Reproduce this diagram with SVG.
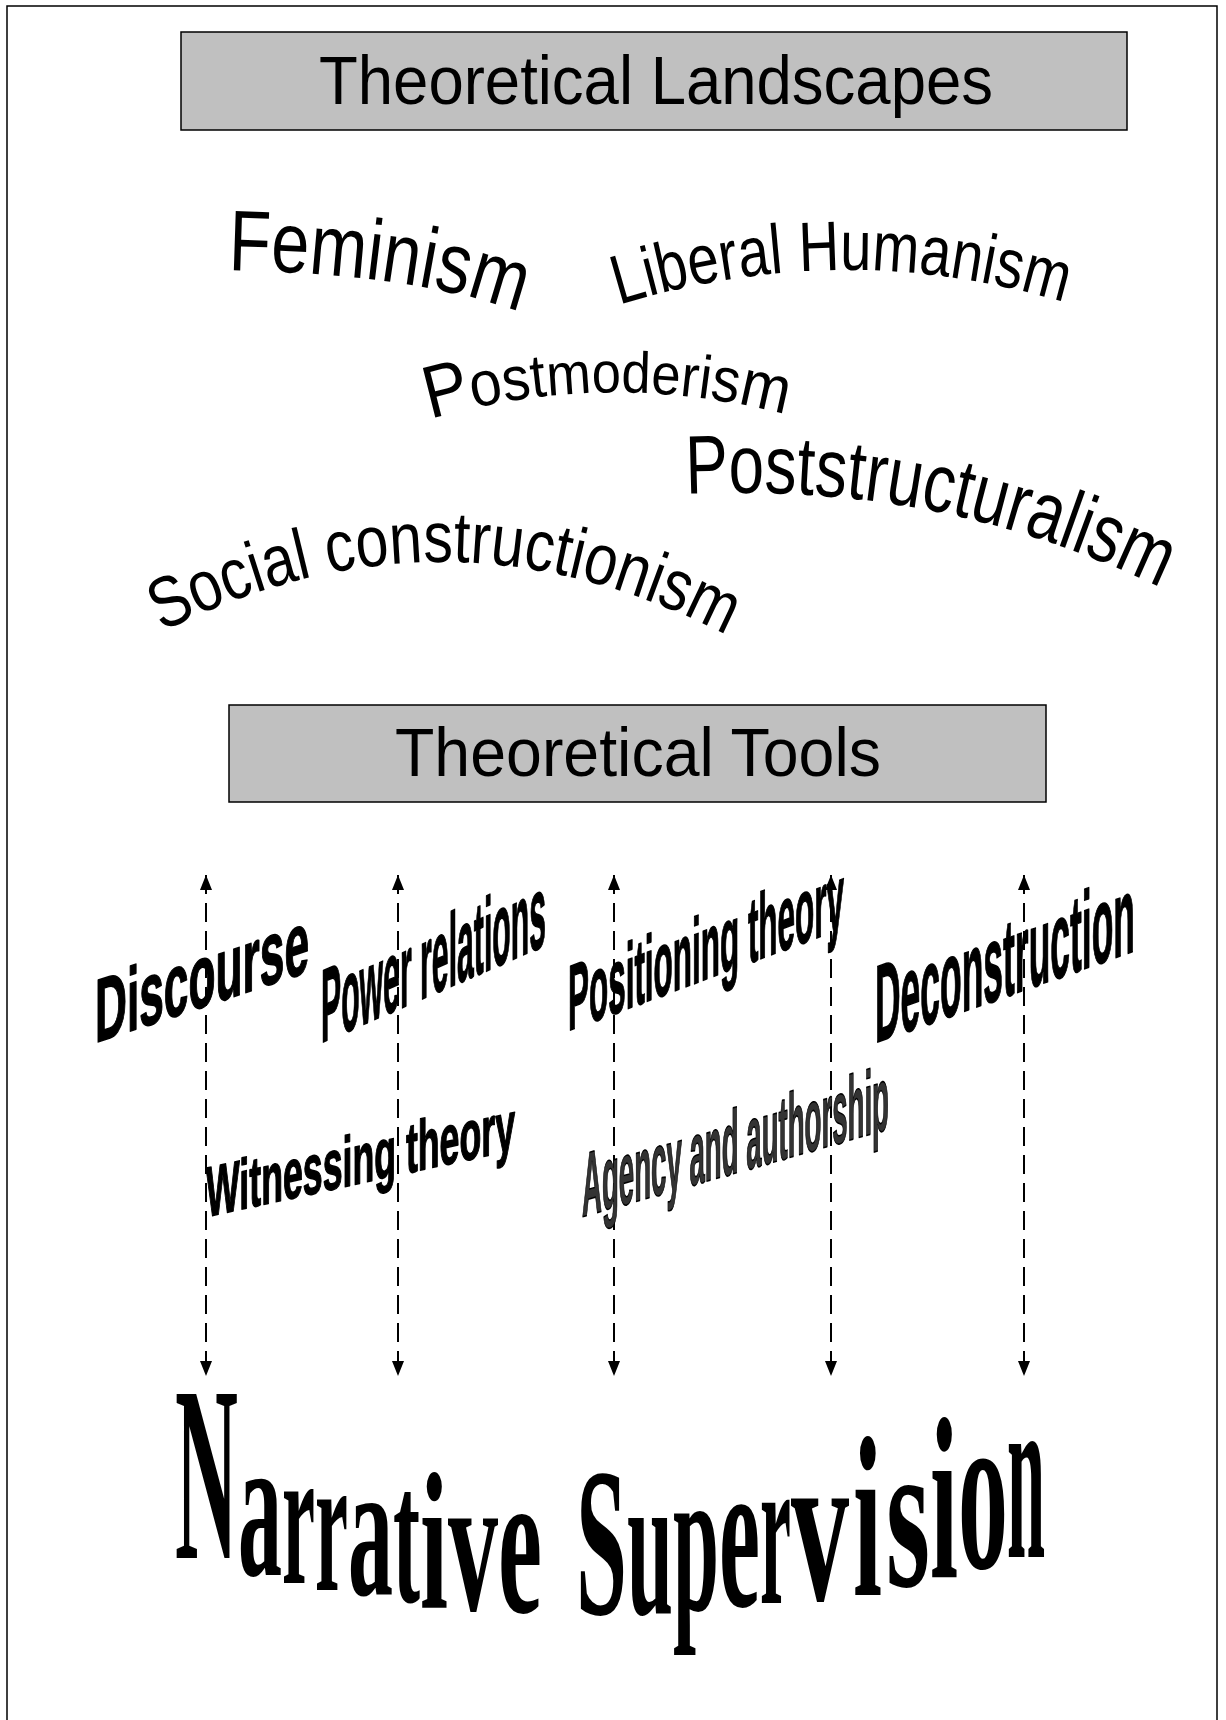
<svg xmlns="http://www.w3.org/2000/svg" width="1226" height="1720" viewBox="0 0 1226 1720">
<style>
.frame{fill:none;stroke:#000;stroke-width:1.5}
.box{fill:#c0c0c0;stroke:#000;stroke-width:1.5}
.ttl{font-family:"Liberation Sans",Arial,sans-serif;font-size:68px;fill:#000;text-anchor:middle}
.arc{font-family:"Liberation Sans",Arial,sans-serif;fill:#000}
.tool{font-family:"Liberation Sans",Arial,sans-serif;font-weight:bold;fill:#000;stroke:#000;stroke-width:1.6;stroke-linejoin:round}
.tool2{font-family:"Liberation Sans",Arial,sans-serif;font-weight:bold;fill:#333;stroke:#000;stroke-width:1.6;stroke-linejoin:round}
.ns{font-family:"Liberation Serif","Times New Roman",serif;font-weight:bold;fill:#000}
.conn{fill:none;stroke:#000;stroke-width:2;stroke-dasharray:19 9;marker-start:url(#ah);marker-end:url(#ah)}
</style>
<defs>
<marker id="ah" markerUnits="userSpaceOnUse" markerWidth="16" markerHeight="13" refX="15" refY="6" orient="auto-start-reverse" viewBox="0 0 16 12">
<path d="M0,0 L15,6 L0,12 Z" fill="#000"/>
</marker>
<path id="pFem" d="M 228 270 Q 420 274 524 314"/>
<path id="pLib" d="M 619 305 Q 843 236 1067 303"/>
<path id="pPom" d="M 430 419 Q 609 368 788 415"/>
<path id="pPst" d="M 686 494 C 840 488 990 505 1170 592"/>
<path id="pSoc" d="M 162 632 Q 445 490 728 636"/>
</defs>
<path class="frame" d="M 7 1720 V 6 H 1217 V 1720"/>

<g id="landscapes">
<rect class="box" x="181" y="32" width="946" height="98"/>
<text class="ttl" x="656" y="104" textLength="674" lengthAdjust="spacingAndGlyphs">Theoretical Landscapes</text>
</g>

<g id="feminism"><text class="arc" font-size="86"><textPath href="#pFem" textLength="296" lengthAdjust="spacingAndGlyphs">Feminism</textPath></text></g>
<g id="liberal-humanism"><text class="arc" font-size="70"><textPath href="#pLib" textLength="452" lengthAdjust="spacingAndGlyphs">Liberal Humanism</textPath></text></g>
<g id="postmoderism"><text class="arc"><textPath href="#pPom" textLength="360" lengthAdjust="spacingAndGlyphs"><tspan font-size="74">P</tspan><tspan font-size="64">o</tspan><tspan font-size="62">s</tspan><tspan font-size="61">t</tspan><tspan font-size="59">m</tspan><tspan font-size="58">o</tspan><tspan font-size="58">d</tspan><tspan font-size="58">e</tspan><tspan font-size="59">r</tspan><tspan font-size="61">i</tspan><tspan font-size="63">s</tspan><tspan font-size="66">m</tspan></textPath></text></g>
<g id="poststructuralism"><text class="arc" font-size="83"><textPath href="#pPst" textLength="489" lengthAdjust="spacingAndGlyphs">Poststructuralism</textPath></text></g>
<g id="social-constructionism"><text class="arc" font-size="72"><textPath href="#pSoc" textLength="588" lengthAdjust="spacingAndGlyphs">Social constructionism</textPath></text></g>

<g id="tools">
<rect class="box" x="229" y="705" width="817" height="97"/>
<text class="ttl" x="638" y="776" textLength="486" lengthAdjust="spacingAndGlyphs">Theoretical Tools</text>
</g>

<g id="connectors">
<line class="conn" x1="206" y1="875" x2="206" y2="1376"/>
<line class="conn" x1="398" y1="875" x2="398" y2="1376"/>
<line class="conn" x1="614" y1="875" x2="614" y2="1376"/>
<line class="conn" x1="831" y1="875" x2="831" y2="1376"/>
<line class="conn" x1="1024" y1="875" x2="1024" y2="1376"/>
</g>

<g id="discourse"><text class="tool" font-size="90" transform="translate(95,1043) skewY(-18.5)" textLength="214" lengthAdjust="spacingAndGlyphs">Discourse</text></g>
<g id="power-relations"><text class="tool" font-size="104" transform="translate(321,1043) skewY(-23.5)" textLength="225" lengthAdjust="spacingAndGlyphs">Power relations</text></g>
<g id="positioning-theory"><text class="tool" font-size="93" transform="translate(568,1031) skewY(-20.5)" textLength="276" lengthAdjust="spacingAndGlyphs">Positioning theory</text></g>
<g id="deconstruction"><text class="tool" font-size="110" transform="translate(875,1043) skewY(-19.5)" textLength="260" lengthAdjust="spacingAndGlyphs">Deconstruction</text></g>
<g id="witnessing-theory"><text class="tool" font-size="71" transform="translate(206,1217) skewY(-12.3)" textLength="309" lengthAdjust="spacingAndGlyphs">Witnessing theory</text></g>
<g id="agency-authorship"><text class="tool2" font-size="91" transform="translate(582,1217) skewY(-16)" textLength="307" lengthAdjust="spacingAndGlyphs">Agency and authorship</text></g>

<g id="narrative-supervision"><text class="ns"><tspan x="175" y="1558" font-size="250" textLength="63" lengthAdjust="spacingAndGlyphs">N</tspan><tspan x="238" y="1575" font-size="205" textLength="44" lengthAdjust="spacingAndGlyphs">a</tspan><tspan x="282" y="1583" font-size="200" textLength="33" lengthAdjust="spacingAndGlyphs">r</tspan><tspan x="315" y="1590" font-size="198" textLength="33" lengthAdjust="spacingAndGlyphs">r</tspan><tspan x="348" y="1595" font-size="195" textLength="45" lengthAdjust="spacingAndGlyphs">a</tspan><tspan x="393" y="1602" font-size="195" textLength="27" lengthAdjust="spacingAndGlyphs">t</tspan><tspan x="420" y="1607" font-size="195" textLength="28" lengthAdjust="spacingAndGlyphs">i</tspan><tspan x="448" y="1610" font-size="200" textLength="50" lengthAdjust="spacingAndGlyphs">v</tspan><tspan x="498" y="1612" font-size="208" textLength="44" lengthAdjust="spacingAndGlyphs">e</tspan> <tspan x="576" y="1614" font-size="212" textLength="51" lengthAdjust="spacingAndGlyphs">S</tspan><tspan x="627" y="1613" font-size="207" textLength="46" lengthAdjust="spacingAndGlyphs">u</tspan><tspan x="673" y="1610" font-size="209" textLength="46" lengthAdjust="spacingAndGlyphs">p</tspan><tspan x="719" y="1606" font-size="216" textLength="41" lengthAdjust="spacingAndGlyphs">e</tspan><tspan x="760" y="1603" font-size="218" textLength="31" lengthAdjust="spacingAndGlyphs">r</tspan><tspan x="791" y="1600" font-size="220" textLength="58" lengthAdjust="spacingAndGlyphs">v</tspan><tspan x="853" y="1595" font-size="228" textLength="29" lengthAdjust="spacingAndGlyphs">i</tspan><tspan x="886" y="1586" font-size="214" textLength="44" lengthAdjust="spacingAndGlyphs">s</tspan><tspan x="930" y="1578" font-size="232" textLength="28" lengthAdjust="spacingAndGlyphs">i</tspan><tspan x="958" y="1568" font-size="230" textLength="50" lengthAdjust="spacingAndGlyphs">o</tspan><tspan x="1007" y="1557" font-size="245" textLength="38" lengthAdjust="spacingAndGlyphs">n</tspan></text></g>
</svg>
